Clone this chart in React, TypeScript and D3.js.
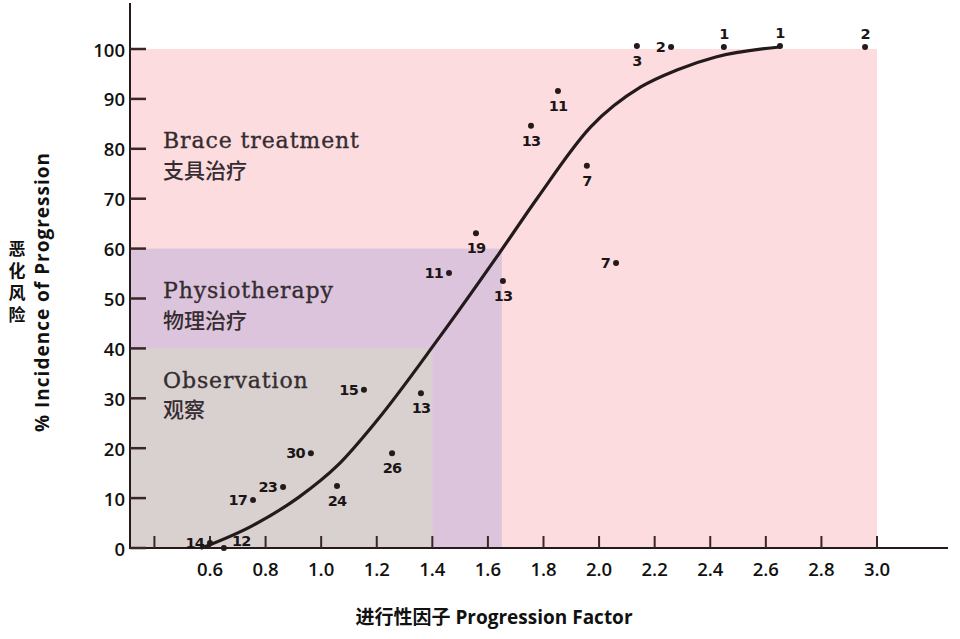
import React from 'react';
import * as d3 from 'd3';

// ---- data ----
const xTickValues = [0.4, 0.6, 0.8, 1.0, 1.2, 1.4, 1.6, 1.8, 2.0, 2.2, 2.4, 2.6, 2.8, 3.0];
const xTickLabels = ['', '0.6', '0.8', '1.0', '1.2', '1.4', '1.6', '1.8', '2.0', '2.2', '2.4', '2.6', '2.8', '3.0'];
const yTickValues = [0, 10, 20, 30, 40, 50, 60, 70, 80, 90, 100];

const zoneNames = ['Brace treatment', 'Physiotherapy', 'Observation'];
const zoneNamesZh = ['支具治疗', '物理治疗', '观察'];
const zoneXMax = [3.0, 1.65, 1.4];
const zoneYMax = [100, 60, 40];

const curveX = [0.57, 0.75, 0.92, 1.06, 1.2, 1.42, 1.64, 1.78, 1.97, 2.15, 2.28, 2.42, 2.65];
const curveY = [0, 4.4, 10.2, 16.6, 25.5, 41.8, 59, 70.3, 84.4, 92.4, 95.8, 98.4, 100.4];

const ptX = [0.6, 0.65, 0.755, 0.863, 0.963, 1.057, 1.255, 1.154, 1.359, 1.46, 1.557, 1.654, 2.061, 1.755, 1.852, 1.956, 2.136, 2.259, 2.449, 2.651, 2.957];
const ptY = [1, 0, 9.6, 12.2, 19, 12.4, 19, 31.7, 31, 55.1, 63.1, 53.5, 57.1, 84.6, 91.6, 76.6, 100.6, 100.4, 100.4, 100.6, 100.4];
const ptLabel = ['14', '12', '17', '23', '30', '24', '26', '15', '13', '11', '19', '13', '7', '13', '11', '7', '3', '2', '1', '1', '2'];
const ptLabelSide = ['l', 'r', 'l', 'l', 'l', 'b', 'b', 'l', 'b', 'l', 'b', 'b', 'l', 'b', 'b', 'b', 'b', 'l', 'a', 'a', 'a'];

const yTitleZh = '恶化风险';

// ---- styles / layout ----
const W = 960;
const H = 639;
const zoneColors = ['#fcdcdf', '#dcc5dc', '#d8d1d0'];
const zoneTextPos = [
  { x: 163, y: 148, yz: 178 },
  { x: 163, y: 298, yz: 328 },
  { x: 163, y: 388, yz: 417 },
];
const ink = '#241a1c';

export default function App() {
  const x = d3.scaleLinear().domain([0.6, 3.0]).range([210, 877]);
  const y = d3.scaleLinear().domain([0, 100]).range([548, 49]);
  const axisX0 = 130;
  const axisY0 = 548;

  const line = d3
    .line<number>()
    .x((_, i) => x(curveX[i]))
    .y((_, i) => y(curveY[i]))
    .curve(d3.curveMonotoneX);
  const curvePath = line(curveX) || '';

  const numFont = "'Open Sans', 'DejaVu Sans', sans-serif";
  const cjkFont = "'Noto Sans CJK SC', 'Open Sans', sans-serif";
  const mixFont = "'Open Sans', 'Noto Sans CJK SC', sans-serif";

  return (
    <svg width={W} height={H} style={{ position: 'absolute', left: 0, top: 0, background: '#ffffff' }}>
      {/* zones */}
      {zoneXMax.map((xm, i) => (
        <rect
          key={'z' + i}
          x={axisX0}
          y={y(zoneYMax[i])}
          width={x(xm) - axisX0}
          height={axisY0 - y(zoneYMax[i])}
          fill={zoneColors[i]}
        />
      ))}
      {zoneNames.map((n, i) => (
        <g key={'zt' + i}>
          <text
            x={zoneTextPos[i].x}
            y={zoneTextPos[i].y}
            fontFamily="'DejaVu Serif', serif"
            fontSize={22}
            letterSpacing={0.9}
            fill="#352c31"
            stroke="#352c31"
            strokeWidth={0.35}
          >
            {n}
          </text>
          <text
            x={zoneTextPos[i].x}
            y={zoneTextPos[i].yz}
            fontFamily={cjkFont}
            fontWeight={500}
            fontSize={21}
            fill="#352c31"
          >
            {zoneNamesZh[i]}
          </text>
        </g>
      ))}

      {/* axes */}
      <line x1={axisX0} x2={axisX0} y1={3} y2={axisY0 + 1} stroke={ink} strokeWidth={2} />
      <line x1={axisX0 - 1} x2={948} y1={axisY0} y2={axisY0} stroke={ink} strokeWidth={2} />
      {yTickValues.map((v) => (
        <g key={'yt' + v}>
          <line x1={axisX0} x2={axisX0 + 16} y1={y(v)} y2={y(v)} stroke="#3a2626" strokeWidth={2.5} />
          <text
            x={125}
            y={y(v)}
            textAnchor="end"
            dominantBaseline="central"
            fontFamily={numFont}
            fontWeight={600}
            fontSize={18.5}
            fill="#111"
          >
            {v}
          </text>
        </g>
      ))}
      {xTickValues.map((v, i) => (
        <g key={'xt' + v}>
          <line x1={x(v)} x2={x(v)} y1={axisY0} y2={axisY0 - 12} stroke="#3a2626" strokeWidth={2} />
          <text
            x={x(v)}
            y={568}
            textAnchor="middle"
            dominantBaseline="central"
            fontFamily={numFont}
            fontWeight={600}
            fontSize={18.5}
            fill="#111"
          >
            {xTickLabels[i]}
          </text>
        </g>
      ))}

      {/* axis titles */}
      <text
        x={494}
        y={617}
        textAnchor="middle"
        dominantBaseline="central"
        fontFamily={mixFont}
        fontWeight={700}
        fontSize={19}
        fill="#111"
      >
        进行性因子 Progression Factor
      </text>
      <text
        transform="translate(42,292) rotate(-90)"
        textAnchor="middle"
        dominantBaseline="central"
        fontFamily={numFont}
        fontWeight={700}
        fontSize={19}
        letterSpacing={1}
        fill="#111"
      >
        % Incidence of Progression
      </text>
      <text
        x={17}
        y={284}
        textAnchor="middle"
        fontFamily={cjkFont}
        fontWeight={700}
        fontSize={17}
        letterSpacing={5}
        fill="#111"
        style={{ writingMode: 'vertical-rl', textOrientation: 'upright' } as React.CSSProperties}
      >
        {yTitleZh}
      </text>

      {/* curve */}
      <path d={curvePath} fill="none" stroke={ink} strokeWidth={3.2} strokeLinecap="round" />

      {/* points */}
      {ptX.map((px, i) => {
        const cx = x(px);
        const cy = y(ptY[i]);
        const side = ptLabelSide[i];
        let tx = cx;
        let ty = cy;
        let anchor: 'start' | 'middle' | 'end' = 'middle';
        if (side === 'l') {
          tx = cx - 6;
          ty = cy;
          anchor = 'end';
        } else if (side === 'r') {
          tx = cx + 8;
          ty = cy - 7;
          anchor = 'start';
        } else if (side === 'b') {
          ty = cy + 15;
        } else if (side === 'a') {
          ty = cy - 13;
        }
        return (
          <g key={'p' + i}>
            <circle cx={cx} cy={cy} r={3} fill={ink} />
            <text
              x={tx}
              y={ty}
              textAnchor={anchor}
              dominantBaseline="central"
              fontFamily="'DejaVu Sans', sans-serif"
              fontWeight={700}
              fontSize={14.5}
              letterSpacing={-0.8}
              fill="#1c1416"
            >
              {ptLabel[i]}
            </text>
          </g>
        );
      })}
    </svg>
  );
}
